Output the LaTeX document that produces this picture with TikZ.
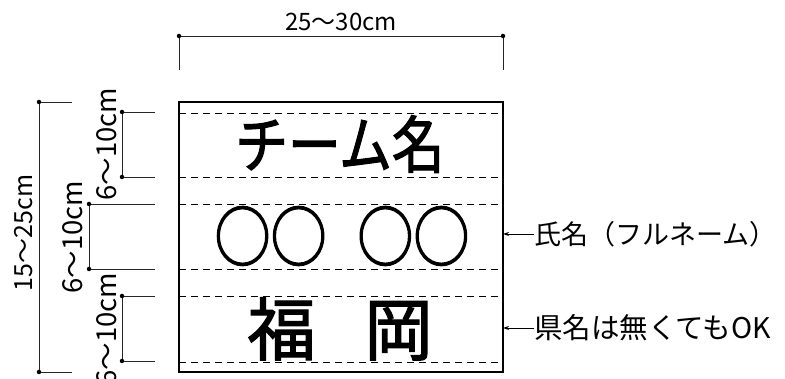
\documentclass[tikz,border=0pt]{standalone}
\usepackage{fontspec}
\newfontfamily\jp{Noto Sans CJK JP}
\newfontfamily\jpheavy[FakeBold=2]{Noto Sans CJK JP}
\usetikzlibrary{arrows.meta}
\tikzset{
  dimline/.style={line width=0.9pt, black!85},
  dashline/.style={line width=0.9pt, dash pattern=on 7pt off 5pt},
  boxline/.style={line width=2pt},
  dimdot/.style={circle, fill=black, inner sep=0pt, minimum size=4.5pt},
  dimtext/.style={font=\jp\fontsize{24}{24}\selectfont, inner sep=0pt},
  vdimtext/.style={font=\jp\fontsize{25}{25}\selectfont, inner sep=0pt, rotate=90},
  vsegtext/.style={font=\jp\fontsize{27.5}{27.5}\selectfont, inner sep=0pt, rotate=90},
  bigtext/.style={inner sep=0pt},
  sidetext/.style={inner sep=0pt, anchor=west},
  arr/.style={line width=0.9pt, -{Stealth[length=6pt,width=4pt]}}
}
\begin{document}
\begin{tikzpicture}[x=1pt,y=-1pt]
\useasboundingbox (0,0) rectangle (785,379);
% main box
\coordinate (bTL) at (179,102);
\coordinate (bBR) at (503,372);
\draw[boxline] (bTL) rectangle (bBR);
% dashed guide lines
\foreach \yy/\nm in {113/d1,177/d2,204/d3,269/d4,296/d5,362/d6}{
  \coordinate (\nm L) at (179,\yy);
  \coordinate (\nm R) at (503,\yy);
  \draw[dashline] (\nm L) -- (\nm R);
}
% texts inside
\node[bigtext] (team) at (340,144) {\scalebox{0.85}[1]{\jpheavy\fontsize{62}{62}\selectfont チーム名}};
\node[bigtext] (name) at (342,236) {\scalebox{0.85}[1]{\jpheavy\fontsize{66}{66}\selectfont ○○\hspace{36pt}○○}};
\node[bigtext] (pref) at (340,329) {\jpheavy\fontsize{68}{68}\selectfont 福\hspace{49pt}岡};
% top dimension
\coordinate (tL) at (179,36);
\coordinate (tR) at (503,36);
\coordinate (tLb) at (179,70);
\coordinate (tRb) at (503,70);
\draw[dimline] (tLb) -- (tL) -- (tR) -- (tRb);
\node[dimdot] at (tL) {};
\node[dimdot] at (tR) {};
\node[dimtext] (wtxt) at (341,22) {25〜30cm};
% left overall dimension
\coordinate (lT) at (39,102);
\coordinate (lB) at (39,372);
\coordinate (lTe) at (72,102);
\coordinate (lBe) at (72,372);
\draw[dimline] (lTe) -- (lT) -- (lB) -- (lBe);
\node[dimdot] at (lT) {};
\node[dimdot] at (lB) {};
\node[vdimtext] (htxt) at (24,233) {15〜25cm};
% segment 1
\coordinate (s1T) at (122,112);
\coordinate (s1B) at (122,177);
\coordinate (s1Te) at (155,112);
\coordinate (s1Be) at (155,177);
\draw[dimline] (s1Te) -- (s1T) -- (s1B) -- (s1Be);
\node[dimdot] at (s1T) {};
\node[dimdot] at (s1B) {};
\node[vsegtext] (s1txt) at (107,144) {6〜10cm};
% segment 2
\coordinate (s2T) at (89,204);
\coordinate (s2B) at (89,269);
\coordinate (s2Te) at (155,204);
\coordinate (s2Be) at (155,269);
\draw[dimline] (s2Te) -- (s2T) -- (s2B) -- (s2Be);
\node[dimdot] at (s2T) {};
\node[dimdot] at (s2B) {};
\node[vsegtext] (s2txt) at (73,237) {6〜10cm};
% segment 3
\coordinate (s3T) at (122,296);
\coordinate (s3B) at (122,361);
\coordinate (s3Te) at (155,296);
\coordinate (s3Be) at (155,361);
\draw[dimline] (s3Te) -- (s3T) -- (s3B) -- (s3Be);
\node[dimdot] at (s3T) {};
\node[dimdot] at (s3B) {};
\node[vsegtext] (s3txt) at (107,329) {6〜10cm};
% right labels
\node[sidetext, font=\jp\fontsize{27}{27}\selectfont] (lab1) at (534,234) {氏名（フルネーム）};
\node[sidetext, font=\jp\fontsize{28.5}{28.5}\selectfont] (lab2) at (534,328) {県名は無くてもOK};
\coordinate (a1) at (503,234);
\coordinate (a2) at (503,328);
\draw[arr] (lab1.west) -- (a1);
\draw[arr] (lab2.west) -- (a2);
\end{tikzpicture}
\end{document}
